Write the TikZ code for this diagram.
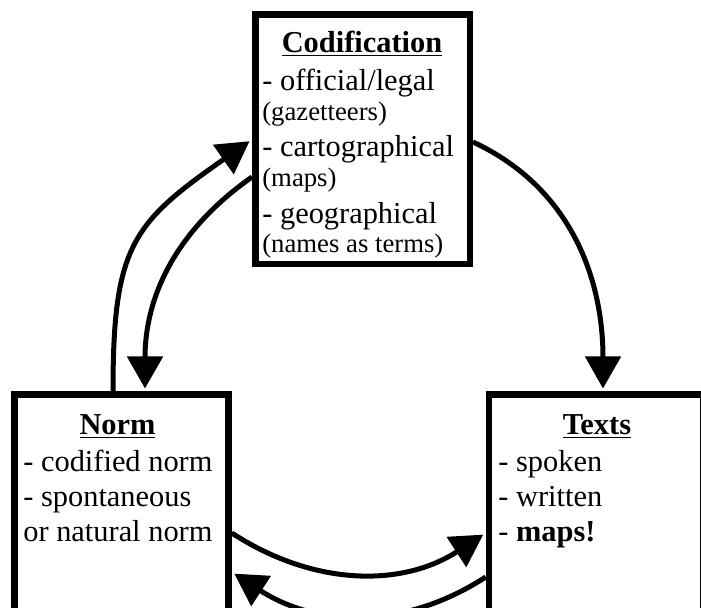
\documentclass[tikz,border=0pt]{standalone}
\usepackage{fontspec}
\setmainfont{Liberation Serif}
\usetikzlibrary{arrows.meta}
\newcommand{\subnote}[1]{{\fontsize{15.2}{18}\selectfont #1}}

\begin{document}
\begin{tikzpicture}[
    box/.style={draw, line width=0.13cm, inner sep=0pt, minimum width=4.28cm,
                minimum height=4.99cm},
    title/.style={anchor=base, inner sep=0pt,
                  font=\fontsize{17.3}{20.5}\selectfont\bfseries},
    body/.style={anchor=base west, inner sep=0pt, align=left,
                 font=\fontsize{17.3}{20.1}\selectfont},
    flow/.style={line width=0.1cm, -{Triangle[length=0.64cm, width=0.7cm]},
                 shorten >=0.06cm},
]
\clip (0,0) rectangle (14.02,-12.16);
\node[box, minimum width=4.29cm] (cod) at (7.25,-2.79) {};
\node[box] (norm) at (2.43,-10.39) {};
\node[box] (texts) at (11.92,-10.39) {};

\node[title] (codtitle) at (7.24,-1.06) {\underline{Codification}};
\node[body, font=\fontsize{17.3}{20.8}\selectfont] (codtext) at (5.24,-5.06)
    {- official/legal\\[-3.8pt]
    \subnote{(gazetteers)}\\- cartographical\\[-3.8pt]
    \subnote{(maps)}\\- geographical\\[-3.8pt]
    \subnote{(names as terms)}};
\node[title] (normtitle) at (2.35,-8.70) {\underline{Norm}};
\node[body] (normtext) at (0.46,-10.84) {- codified norm\\- spontaneous\\
    or natural norm};
\node[title] (textstitle) at (11.94,-8.70) {\underline{Texts}};
\node[body] (textstext) at (9.96,-10.84) {- spoken\\- written\\
    - \textbf{maps!}};

\draw[flow] ([yshift=-0.05cm]cod.east) to[out=-25, in=90]
    ([xshift=0.14cm]texts.north);
\draw[flow] ([xshift=-0.17cm]norm.north) to[out=90, in=215, looseness=1.3]
    (cod.west);
\draw[flow] ([yshift=-0.75cm]cod.west) to[out=215, in=90]
    ([xshift=0.47cm]norm.north);
\draw[flow] ([yshift=-0.27cm]norm.east) to[out=-33, in=213]
    ([yshift=-0.27cm]texts.west);
\draw[flow] ([yshift=-1.15cm]texts.west) to[out=213, in=-33]
    ([yshift=-1.05cm]norm.east);
\end{tikzpicture}
\end{document}
